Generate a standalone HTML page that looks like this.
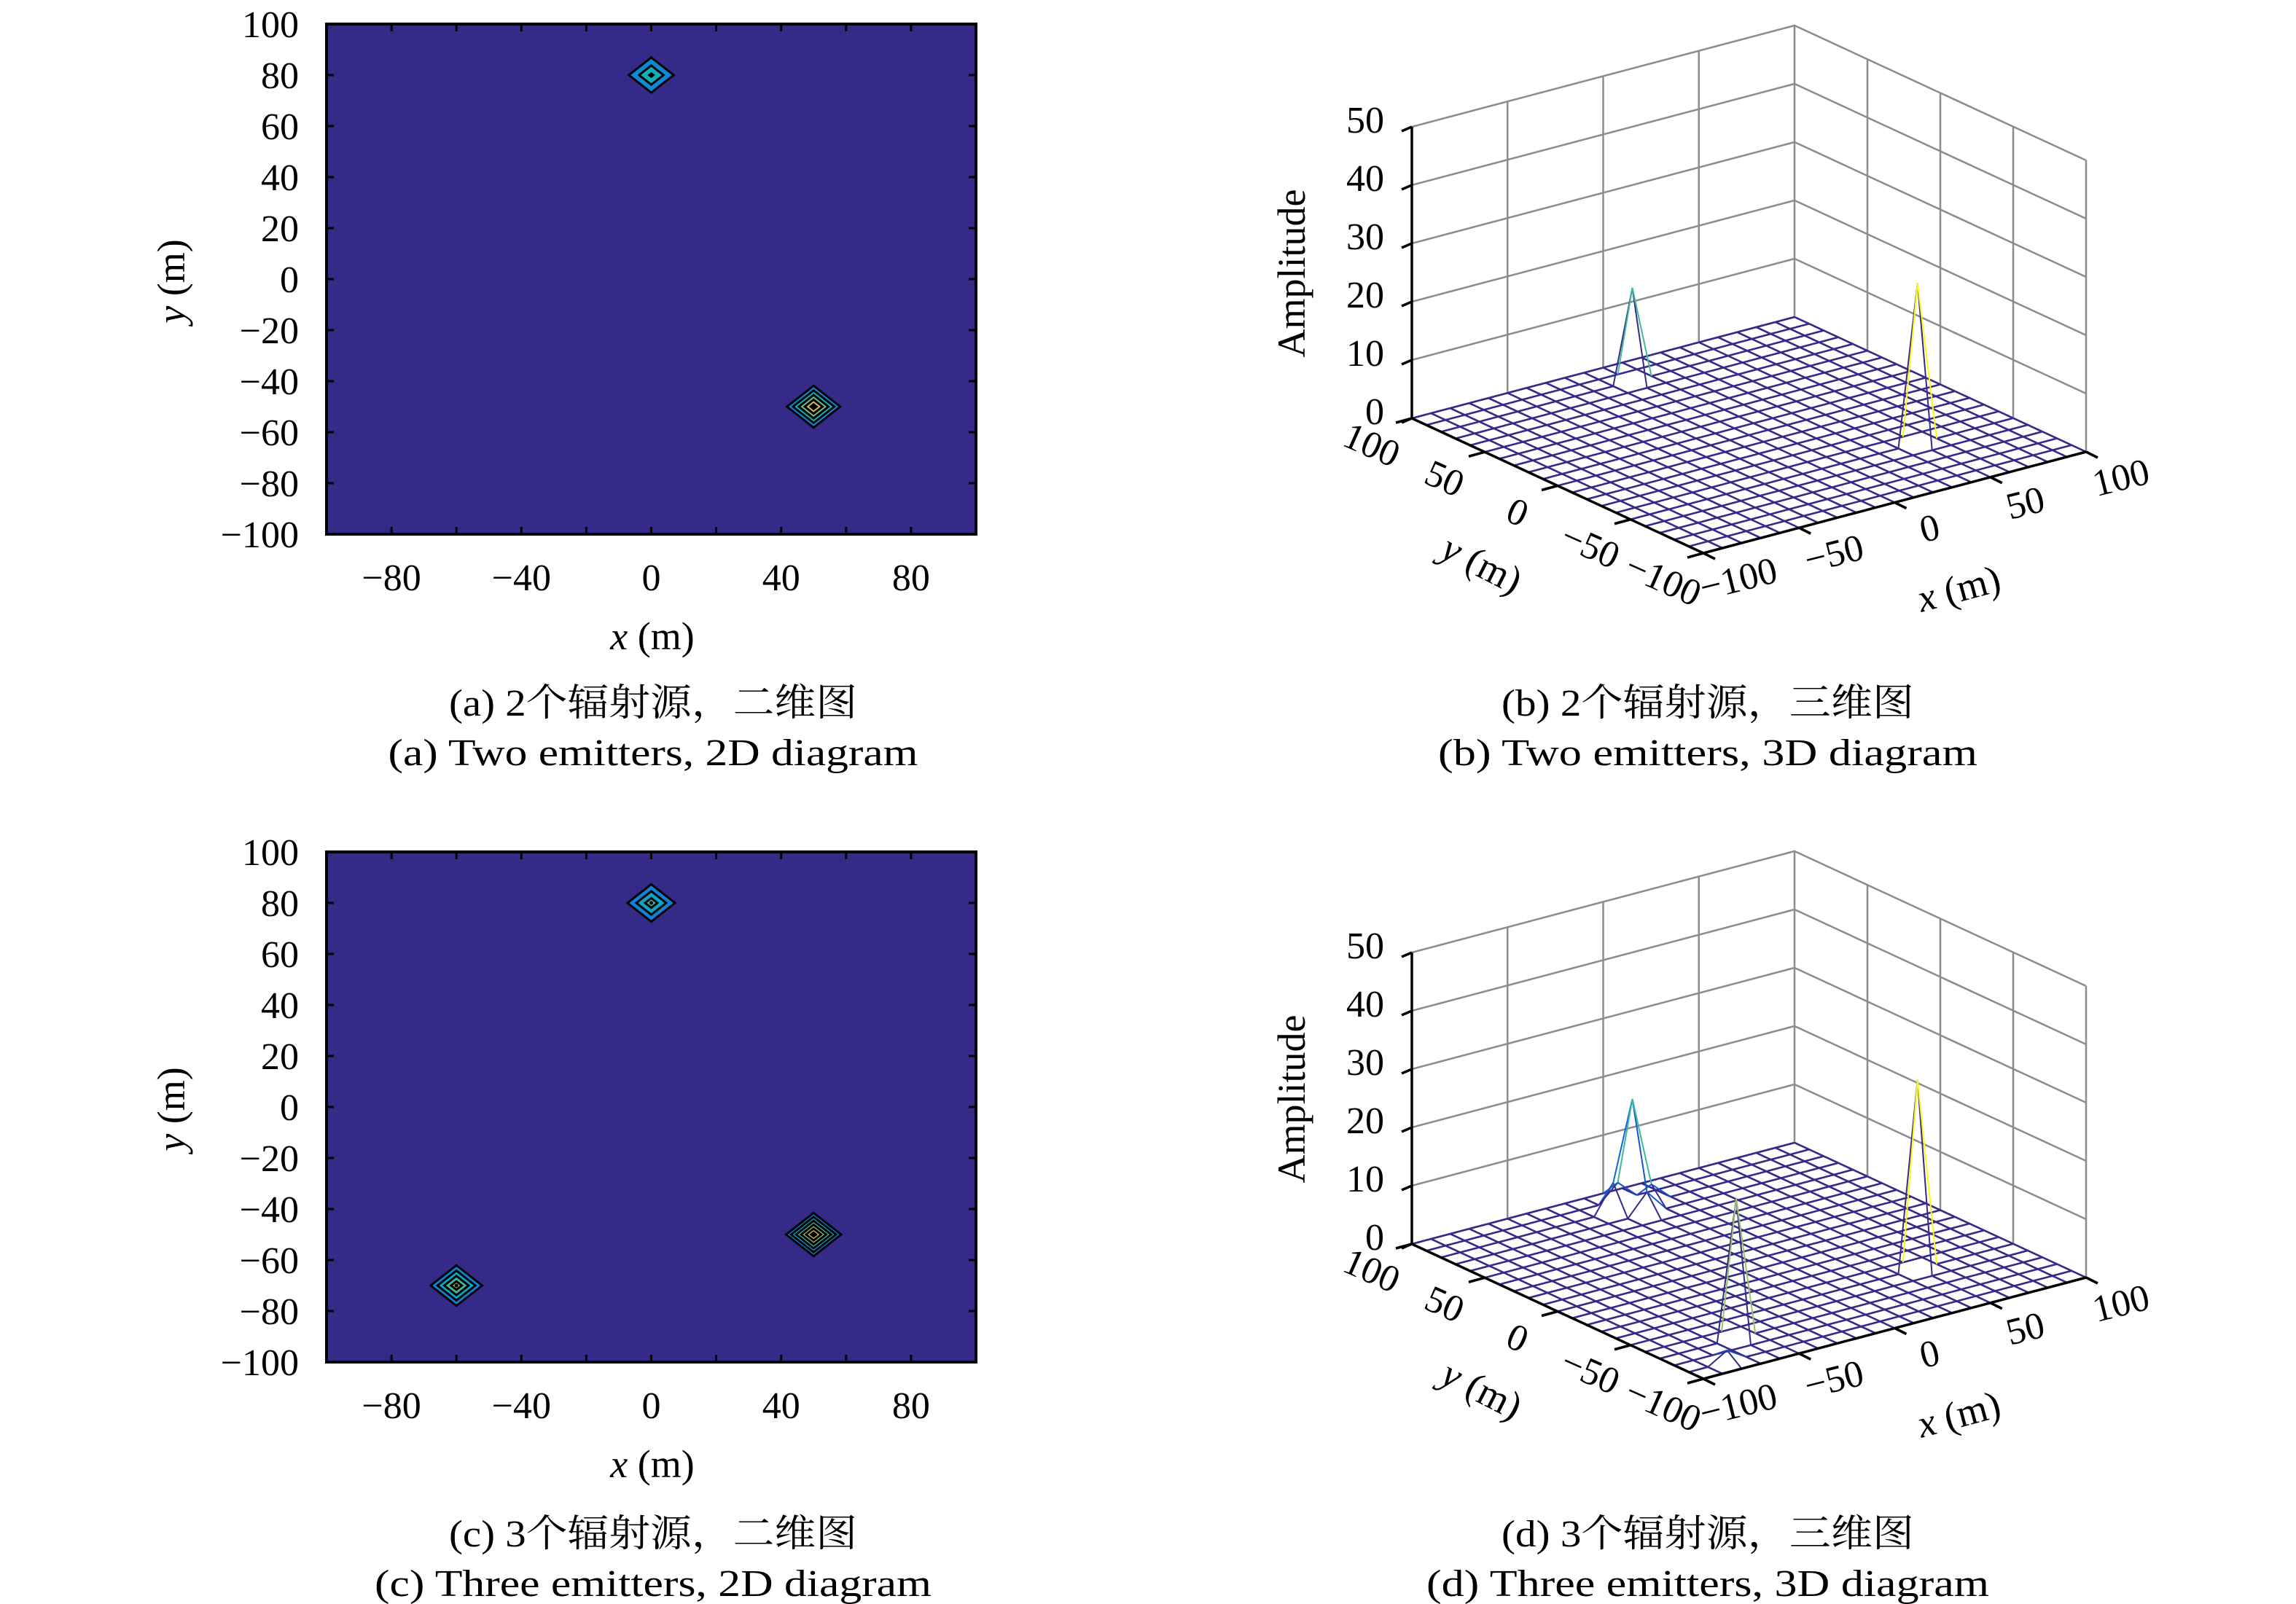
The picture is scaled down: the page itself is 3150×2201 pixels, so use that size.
<!DOCTYPE html>
<html><head><meta charset="utf-8"><style>
html,body{margin:0;padding:0;background:#fff}
svg{display:block}
text{font-family:"Liberation Serif","Noto Serif CJK SC","Noto Sans CJK SC",serif;fill:#000}
</style></head><body>
<svg id="fig" width="3150" height="2201" viewBox="0 0 3150 2201" xmlns="http://www.w3.org/2000/svg">
<rect width="3150" height="2201" fill="#fff"/>
<g id="pa"></g>
<g id="pb"></g>
<g id="pc"></g>
<g id="pd"></g>
<text x="896" y="982" font-size="52" text-anchor="middle" textLength="560" lengthAdjust="spacingAndGlyphs">(a) 2个辐射源，二维图</text>
<text x="896" y="1050" font-size="52" text-anchor="middle" textLength="727" lengthAdjust="spacingAndGlyphs">(a) Two emitters, 2D diagram</text>
<text x="2343" y="982" font-size="52" text-anchor="middle" textLength="566" lengthAdjust="spacingAndGlyphs">(b) 2个辐射源，三维图</text>
<text x="2343" y="1050" font-size="52" text-anchor="middle" textLength="740" lengthAdjust="spacingAndGlyphs">(b) Two emitters, 3D diagram</text>
<text x="896" y="2122" font-size="52" text-anchor="middle" textLength="560" lengthAdjust="spacingAndGlyphs">(c) 3个辐射源，二维图</text>
<text x="896" y="2190" font-size="52" text-anchor="middle" textLength="764" lengthAdjust="spacingAndGlyphs">(c) Three emitters, 2D diagram</text>
<text x="2343" y="2122" font-size="52" text-anchor="middle" textLength="566" lengthAdjust="spacingAndGlyphs">(d) 3个辐射源，三维图</text>
<text x="2343" y="2190" font-size="52" text-anchor="middle" textLength="772" lengthAdjust="spacingAndGlyphs">(d) Three emitters, 3D diagram</text>
</svg>
<script>
// ---- data ----
const twoPeakX = [0, 50];
const twoPeakY = [80, -50];
const twoPeakH = [16, 27.5];
const threePeakX = [0, 50, -60];
const threePeakY = [80, -50, -70];
const threePeakH = [18.5, 32.5, 24];
const threeSideX = [-10, 0, 10, 0, -80];
const threeSideY = [80, 70, 80, 90, -90];
const threeSideH = [5, 3.7, 3, 3, 2];
const tick2dX = [-80, -40, 0, 40, 80];
const tick2dY = [100, 80, 60, 40, 20, 0, -20, -40, -60, -80, -100];
const tick3dZ = [0, 10, 20, 30, 40, 50];
const tick3dXY = [-100, -50, 0, 50, 100];
const contourLevels = [5, 10, 15, 20, 25, 30];

const NS = "http://www.w3.org/2000/svg";
function mk(tag, attrs, parent){const e=document.createElementNS(NS,tag);for(const k in attrs)e.setAttribute(k,attrs[k]);parent.appendChild(e);return e;}
function unitLabel(t, letter){const s=mk('tspan',{'font-style':'italic'},t);s.textContent=letter;const s2=mk('tspan',{},t);s2.textContent=' (m)';}
const PAR=[[0,53,42,135],[0.125,15,92,221],[0.25,18,125,216],[0.375,7,156,207],[0.5,21,177,180],[0.625,89,189,140],[0.75,165,190,107],[0.875,225,185,82],[1,249,251,14]];
function parula(t){t=Math.max(0,Math.min(1,t));for(let i=1;i<PAR.length;i++){if(t<=PAR[i][0]){const a=PAR[i-1],b=PAR[i],f=(t-a[0])/(b[0]-a[0]);return `rgb(${Math.round(a[1]+f*(b[1]-a[1]))},${Math.round(a[2]+f*(b[2]-a[2]))},${Math.round(a[3]+f*(b[3]-a[3]))})`;}}return "rgb(249,251,14)";}

// ---- 2D contour panels ----
function draw2D(g, dy, px, py, ph){
  const L=448,R=1339,T=33+dy,B=733+dy;
  const sx=v=>L+(v+100)/200*(R-L), sy=v=>B-(v+100)/200*(B-T);
  let r=mk('rect',{x:L,y:T,width:R-L,height:B-T,fill:'#352a87'},g);
  
  
  const maxH=Math.max(...ph);
  for(let k=0;k<px.length;k++){
    for(const lv of contourLevels){
      if(lv>=ph[k])continue;
      const rad=10*(1-lv/ph[k]);
      const cx=sx(px[k]),cy=sy(py[k]),rx=rad/200*(R-L),ry=rad/200*(B-T);
      const p=mk('polygon',{points:`${cx},${cy-ry} ${cx+rx},${cy} ${cx},${cy+ry} ${cx-rx},${cy}`,fill:parula(lv/maxH+0.12),stroke:'#000','stroke-width':3},g);
      
      
    }
    const d=mk('circle',{cx:sx(px[k]),cy:sy(py[k]),r:2.5,fill:'#000'},g);
    
    
  }
  const fr=mk('rect',{x:L,y:T,width:R-L,height:B-T,fill:'none',stroke:'#000','stroke-width':4},g);
  
  
  for(let v=-80;v<=80;v+=20){
    mk('line',{x1:sx(v),y1:B,x2:sx(v),y2:B-10,stroke:'#000','stroke-width':3},g);
    mk('line',{x1:sx(v),y1:T,x2:sx(v),y2:T+10,stroke:'#000','stroke-width':3},g);
    mk('line',{x1:L,y1:sy(v),x2:L+10,y2:sy(v),stroke:'#000','stroke-width':3},g);
    mk('line',{x1:R,y1:sy(v),x2:R-10,y2:sy(v),stroke:'#000','stroke-width':3},g);
  }
  for(const v of tick2dX){const t=mk('text',{x:sx(v),y:B+77,'font-size':52,'text-anchor':'middle'},g);t.textContent=(v<0?'\u2212'+(-v):v);
    }
  for(const v of tick2dY){const t=mk('text',{x:410,y:sy(v)+18,'font-size':52,'text-anchor':'end'},g);t.textContent=(v<0?'\u2212'+(-v):v);
    }
  const xt=mk('text',{x:895,y:B+158,'font-size':54,'text-anchor':'middle'},g);
  unitLabel(xt,'x');
  
  const yt=mk('text',{x:0,y:0,'font-size':54,'text-anchor':'middle',transform:`translate(253,${386+dy}) rotate(-90)`},g);
  unitLabel(yt,'y');
  
}

// ---- 3D mesh panels ----
function draw3D(g, dy, px, py, ph, sxs, sys, shs){
  const P=(x,y,z)=>{const u=x+100,v=y+100;return [2337+u*2.625-v*2.0, 759+dy-u*0.695-v*0.925-z*8];};
  const grey={stroke:'#8c8c8c','stroke-width':2.5,fill:'none'};
  for(const z of [0,10,20,30,40,50]){
    let a=P(-100,100,z),b=P(100,100,z),c=P(100,-100,z);
    const l=mk('polyline',Object.assign({points:`${a} ${b} ${c}`},grey),g);
    
  }
  for(const x of [-50,0,50,100]){const a=P(x,100,0),b=P(x,100,50);const l=mk('line',Object.assign({x1:a[0],y1:a[1],x2:b[0],y2:b[1]},grey),g);}
  for(const y of [50,0,-50,-100]){const a=P(100,y,0),b=P(100,y,50);const l=mk('line',Object.assign({x1:a[0],y1:a[1],x2:b[0],y2:b[1]},grey),g);}
  const Z=[];for(let i=0;i<=20;i++){Z.push([]);for(let j=0;j<=20;j++)Z[i].push(0);}
  const put=(x,y,h)=>{const i=Math.round((x+100)/10),j=Math.round((y+100)/10);if(i>=0&&i<=20&&j>=0&&j<=20)Z[i][j]=Math.max(Z[i][j],h);};
  for(let k=0;k<px.length;k++)put(px[k],py[k],ph[k]);
  if(sxs)for(let k=0;k<sxs.length;k++)put(sxs[k],sys[k],shs[k]);
  const maxH=Math.max(...ph);
  const mg=mk('g',{},g);
  
  const edges=[];
  for(let i=0;i<=20;i++)for(let j=0;j<=20;j++){
    if(i<20)edges.push([i,j,i+1,j]);
    if(j<20)edges.push([i,j,i,j+1]);
  }
  // flat edges first, raised edges on top
  edges.sort((e,f)=>(Z[e[0]][e[1]]+Z[e[2]][e[3]]>0)-(Z[f[0]][f[1]]+Z[f[2]][f[3]]>0));
  for(const [i1,j1,i2,j2] of edges){
    const z1=Z[i1][j1],z2=Z[i2][j2];
    const a=P(i1*10-100,j1*10-100,z1),b=P(i2*10-100,j2*10-100,z2);
    const c=parula(z1/maxH);
    mk('line',{x1:a[0],y1:a[1],x2:b[0],y2:b[1],stroke:c,'stroke-width':(z1||z2)?2:2.6},mg);
  }
  const ax={stroke:'#000','stroke-width':3.5};
  let a=P(-100,100,0),b=P(-100,100,50);
  const za=mk('line',Object.assign({x1:a[0],y1:a[1],x2:b[0],y2:b[1]},ax),g);
  for(const z of tick3dZ){const p=P(-100,100,z);mk('line',Object.assign({x1:p[0],y1:p[1],x2:p[0]-14,y2:p[1]+6},ax),g);
    const t=mk('text',{x:p[0]-38,y:p[1]+8,'font-size':52,'text-anchor':'end'},g);t.textContent=z;}
  a=P(-100,100,0);b=P(-100,-100,0);
  const ya=mk('line',Object.assign({x1:a[0],y1:a[1],x2:b[0],y2:b[1]},ax),g);
  a=P(-100,-100,0);b=P(100,-100,0);
  const xa=mk('line',Object.assign({x1:a[0],y1:a[1],x2:b[0],y2:b[1]},ax),g);
  for(const v of tick3dXY){
    let p=P(-100,v,0);mk('line',Object.assign({x1:p[0],y1:p[1],x2:p[0]-22,y2:p[1]+6},ax),g);
    let t=mk('text',{x:0,y:0,'font-size':52,'text-anchor':'middle',transform:`translate(${p[0]-62},${p[1]+52}) rotate(24)`},g);
    t.textContent=(v<0?'\u2212'+(-v):v);
    p=P(v,-100,0);mk('line',Object.assign({x1:p[0],y1:p[1],x2:p[0]+16,y2:p[1]+8},ax),g);
    t=mk('text',{x:0,y:0,'font-size':52,'text-anchor':'middle',transform:`translate(${p[0]+52},${p[1]+52}) rotate(-14)`},g);
    t.textContent=(v<0?'\u2212'+(-v):v);
  }
  let t=mk('text',{x:0,y:0,'font-size':54,'text-anchor':'middle',transform:`translate(1790,${375+dy}) rotate(-90)`},g);
  t.textContent='Amplitude';
  t=mk('text',{x:0,y:0,'font-size':54,'text-anchor':'middle',transform:`translate(2025,${790+dy}) rotate(27)`},g);
  unitLabel(t,'y');
  t=mk('text',{x:0,y:0,'font-size':54,'text-anchor':'middle',transform:`translate(2692,${825+dy}) rotate(-15)`},g);
  unitLabel(t,'x');
}

draw2D(document.getElementById('pa'),0,twoPeakX,twoPeakY,twoPeakH);
draw2D(document.getElementById('pc'),1136,threePeakX,threePeakY,threePeakH);
draw3D(document.getElementById('pb'),0,twoPeakX,twoPeakY,twoPeakH);
draw3D(document.getElementById('pd'),1133,threePeakX,threePeakY,threePeakH,threeSideX,threeSideY,threeSideH);
</script>
</body></html>
